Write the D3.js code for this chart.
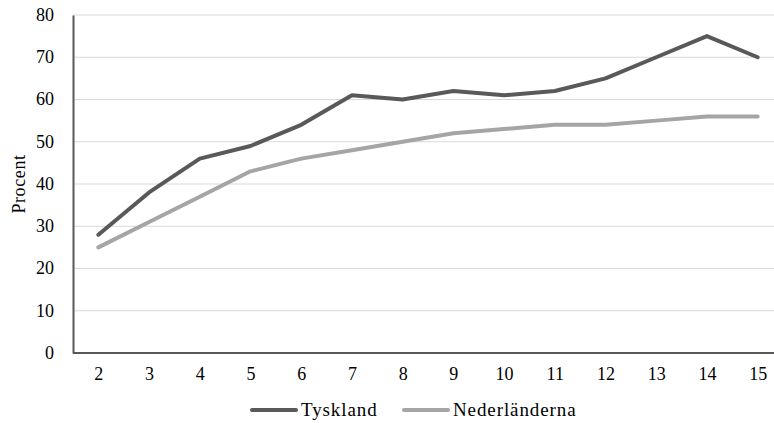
<!DOCTYPE html>
<html><head><meta charset="utf-8">
<script src="https://cdn.jsdelivr.net/npm/d3@7"></script>
<style>body{margin:0;background:#fff}svg{display:block}svg text{font-family:"Liberation Serif","Times New Roman",serif !important}</style>
</head><body><svg id="c" width="774" height="423"></svg>
<script>
const categories = ["2","3","4","5","6","7","8","9","10","11","12","13","14","15"];
const tyskland = [28,38,46,49,54,61,60,62,61,62,65,70,75,70];
const nederlanderna = [25,31,37,43,46,48,50,52,53,54,54,55,56,56];
const yTicks = [0,10,20,30,40,50,60,70,80];
const seriesNames = ["Tyskland","Nederländerna"];
const colors = ["#595959","#A5A5A5"];

(function(){
const svg = d3.select("#c");
const mL = 73, mT = 15, mB = 353, mR = 783;
const x = d3.scalePoint().domain(categories).range([mL, mR]).padding(0.5);
const y = d3.scaleLinear().domain([0,80]).range([mB, mT]);

svg.append("g").selectAll("line").data(yTicks.filter(d=>d>0)).join("line")
  .attr("x1", mL).attr("x2", 774).attr("y1", d=>y(d)).attr("y2", d=>y(d))
  .attr("stroke", "#d9d9d9").attr("stroke-width", 1);

const ya = svg.append("g").attr("transform", `translate(${mL},0)`)
  .call(d3.axisLeft(y).tickValues(yTicks).tickSize(0).tickPadding(19));
ya.select(".domain").attr("stroke", "#595959").attr("stroke-width", 2);
ya.selectAll("text").attr("font-size", 18).attr("fill", "#000").attr("dy", "0.3em");

const xa = svg.append("g").attr("transform", `translate(0,${mB})`)
  .call(d3.axisBottom(x).tickSize(0).tickPadding(14));
xa.select(".domain").attr("d", `M${mL},0H774`).attr("stroke", "#595959").attr("stroke-width", 2);
xa.selectAll("text").attr("font-size", 18).attr("fill", "#000");

svg.append("text").attr("transform", `translate(25,${(mT+mB)/2}) rotate(-90)`)
  .attr("text-anchor", "middle").attr("font-size", 18).attr("letter-spacing", 0.6).text("Procent");

const line = d3.line().x((d,i)=>x(categories[i])).y(d=>y(d));
[tyskland, nederlanderna].forEach((s,i)=>{
  svg.append("path").attr("d", line(s)).attr("fill","none")
    .attr("stroke", colors[i]).attr("stroke-width", 4)
    .attr("stroke-linecap","round").attr("stroke-linejoin","round");
});

const leg = [{x:252, name:seriesNames[0], c:colors[0]},{x:404, name:seriesNames[1], c:colors[1]}];
leg.forEach(l=>{
  svg.append("line").attr("x1", l.x).attr("x2", l.x+44).attr("y1", 410).attr("y2", 410)
    .attr("stroke", l.c).attr("stroke-width", 4).attr("stroke-linecap","round");
  svg.append("text").attr("x", l.x+49).attr("y", 416).attr("font-size", 19).attr("letter-spacing", 0.9).text(l.name);
});
})();
</script></body></html>
